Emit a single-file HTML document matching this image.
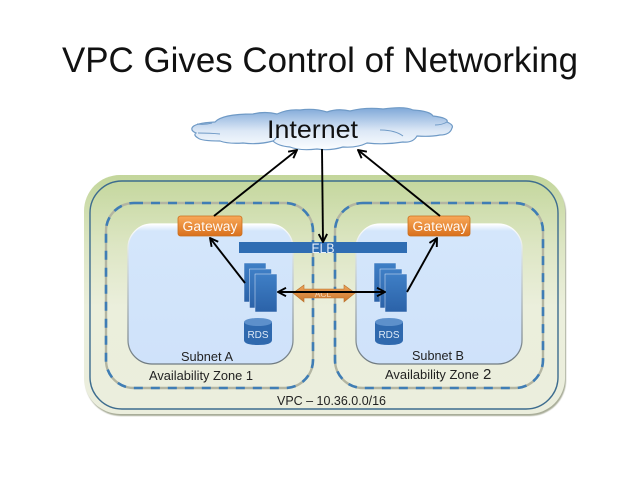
<!DOCTYPE html>
<html><head><meta charset="utf-8"><style>html,body{margin:0;padding:0;background:#fff}svg{display:block}text{font-family:"Liberation Sans",sans-serif}</style></head><body>
<svg width="638" height="479" viewBox="0 0 638 479" xmlns="http://www.w3.org/2000/svg">
<defs>
<linearGradient id="vpc" x1="0" y1="0" x2="0" y2="1"><stop offset="0" stop-color="#c3d69b"/><stop offset=".3" stop-color="#dde6c4"/><stop offset=".55" stop-color="#ebefdc"/><stop offset="1" stop-color="#ebeedd"/></linearGradient>
<linearGradient id="sub" x1="0" y1="0" x2="0" y2="1"><stop offset="0" stop-color="#fff"/><stop offset=".05" stop-color="#d4e6fb"/><stop offset="1" stop-color="#cfe2fa"/></linearGradient>
<linearGradient id="subs" x1="0" y1="0" x2="0" y2="1"><stop offset="0" stop-color="#fff"/><stop offset=".25" stop-color="#d5dde0"/><stop offset="1" stop-color="#6f7a80"/></linearGradient>
<linearGradient id="gw" x1="0" y1="0" x2="0" y2="1"><stop offset="0" stop-color="#f9a95a"/><stop offset="1" stop-color="#d9701c"/></linearGradient>
<linearGradient id="acl" x1="0" y1="0" x2="0" y2="1"><stop offset="0" stop-color="#eea55c"/><stop offset="1" stop-color="#c9752c"/></linearGradient>
<linearGradient id="cl" x1="0" y1="0" x2="0" y2="1"><stop offset="0" stop-color="#7fa8d8"/><stop offset=".55" stop-color="#dce8f6"/><stop offset="1" stop-color="#fbfdff"/></linearGradient>
<linearGradient id="st" x1="0" y1="0" x2="0" y2="1"><stop offset="0" stop-color="#3f7fc6"/><stop offset="1" stop-color="#2b62a8"/></linearGradient>
<marker id="a" viewBox="0 0 10 10" refX="9" refY="5" markerWidth="10" markerHeight="10" markerUnits="userSpaceOnUse" orient="auto-start-reverse"><path d="M1 .8 9 5 1 9.2" fill="none" stroke="#000" stroke-width="1.9"/></marker>
<filter id="sh" x="-5%" y="-5%" width="110%" height="110%"><feGaussianBlur stdDeviation=".6"/></filter>
</defs>

<text x="62" y="72" font-size="35" fill="#111" textLength="516" lengthAdjust="spacingAndGlyphs">VPC Gives Control of Networking</text>

<rect x="85" y="177" width="481" height="239" rx="36" fill="#a9ad99" filter="url(#sh)"/>
<rect x="84" y="175" width="481" height="239" rx="36" fill="url(#vpc)"/>
<rect x="90" y="181" width="468" height="228" rx="32" fill="none" stroke="#3d6c8e" stroke-width="1.4"/>

<g fill="none">
<rect x="106" y="203" width="207" height="185" rx="28" stroke="#b3b5a2" stroke-width="2.4"/>
<rect x="335" y="203" width="208" height="185" rx="28" stroke="#b3b5a2" stroke-width="2.4"/>
<rect x="106" y="203" width="207" height="185" rx="28" stroke="#3f7db5" stroke-width="2.6" stroke-dasharray="9 8"/>
<rect x="335" y="203" width="208" height="185" rx="28" stroke="#3f7db5" stroke-width="2.6" stroke-dasharray="9 8"/>
</g>

<rect x="128" y="224" width="165" height="140" rx="24" fill="url(#sub)" stroke="url(#subs)" stroke-width="1.3"/>
<rect x="356" y="224" width="166" height="140" rx="24" fill="url(#sub)" stroke="url(#subs)" stroke-width="1.3"/>

<path d="M192 128Q194 123 215 122Q222 114 253 114Q265 111 277 114Q288 109 300 110Q314 108 327 112Q338 108 350 111Q366 107 383 109Q405 106 413 110Q430 111 433 116Q449 118 447 122Q454 125 452 128Q450 135 440 135Q430 137 417 136Q413 143 403 142Q385 145 367 143Q357 148 343 147Q330 151 317 149Q300 151 290 147Q278 146 273 141Q258 145 243 143Q228 144 220 141Q201 141 198 138Q193 135 196 133Q191 131 192 128Z" fill="url(#cl)" stroke="#6f9ac6" stroke-width="1.2"/>
<g fill="none" stroke="#6f9ac6" stroke-width="1"><path d="M197 124Q205 125 212 123M198 133Q210 133 220 134M273 141Q276 139 277 136M403 136Q395 130 380 130M435 125Q442 125 447 122"/></g>
<text x="267" y="138" font-size="25" fill="#111" textLength="91" lengthAdjust="spacingAndGlyphs">Internet</text>

<g fill="url(#gw)" stroke="#c9701f" stroke-width=".8">
<rect x="178" y="216" width="64" height="20" rx="2.5"/>
<rect x="408" y="216" width="62" height="20" rx="2.5"/>
</g>
<g font-size="13.500" fill="#fff" text-anchor="middle" opacity=".95">
<text x="210" y="231" textLength="55" lengthAdjust="spacingAndGlyphs">Gateway</text>
<text x="440" y="231" textLength="55" lengthAdjust="spacingAndGlyphs">Gateway</text>
</g>

<rect x="239" y="242" width="168" height="11" fill="#2f6db3"/>
<text x="323" y="253" font-size="14" fill="#e9f1fb" text-anchor="middle" textLength="23" lengthAdjust="spacingAndGlyphs">ELB</text>

<g fill="url(#st)" stroke="#dfeafa" stroke-width=".5">
<rect x="244" y="263" width="22" height="39"/>
<rect x="249.500" y="269" width="22" height="39"/>
<rect x="255" y="274" width="22" height="38"/>
<rect x="374" y="263" width="22" height="39"/>
<rect x="380" y="269" width="22" height="39"/>
<rect x="385" y="274" width="22" height="38"/>
</g>

<path d="M293 293 304 285V289H344V285L355 293 344 302V298H304V302Z" fill="url(#acl)" stroke="#b9702c" stroke-width=".6"/>
<text x="323" y="297" font-size="8.500" fill="#f3d5b5" text-anchor="middle">ACL</text>

<g>
<path d="M244 322V340Q244 345 258 345Q272 345 272 340V322Z" fill="#2f69ae"/>
<ellipse cx="258" cy="322" rx="14" ry="4" fill="#5d90cb"/>
<path d="M375 322V340Q375 345 389 345Q403 345 403 340V322Z" fill="#2f69ae"/>
<ellipse cx="389" cy="322" rx="14" ry="4" fill="#5d90cb"/>
</g>
<g font-size="10" fill="#dbe8f7" text-anchor="middle">
<text x="258" y="338">RDS</text>
<text x="389" y="338">RDS</text>
</g>

<g fill="none" stroke="#000" stroke-width="1.9" marker-end="url(#a)">
<path d="M214 216 297 150"/>
<path d="M322 149 323 242"/>
<path d="M440 216 358 150"/>
<path d="M245 283 210 238"/>
<path d="M407 292 437 238"/>
<path d="M278 292H385" marker-start="url(#a)"/>
</g>

<g font-size="12.500" fill="#222">
<text x="181" y="361" textLength="52" lengthAdjust="spacingAndGlyphs">Subnet A</text>
<text x="412" y="360" textLength="52" lengthAdjust="spacingAndGlyphs">Subnet B</text>
<text x="149" y="380" textLength="104" lengthAdjust="spacingAndGlyphs">Availability Zone 1</text>
<text x="385" y="379" textLength="94" lengthAdjust="spacingAndGlyphs">Availability Zone</text><text x="483" y="379" font-size="15">2</text>
<text x="277" y="405" textLength="109" lengthAdjust="spacingAndGlyphs">VPC – 10.36.0.0/16</text>
</g>
</svg>
</body></html>
